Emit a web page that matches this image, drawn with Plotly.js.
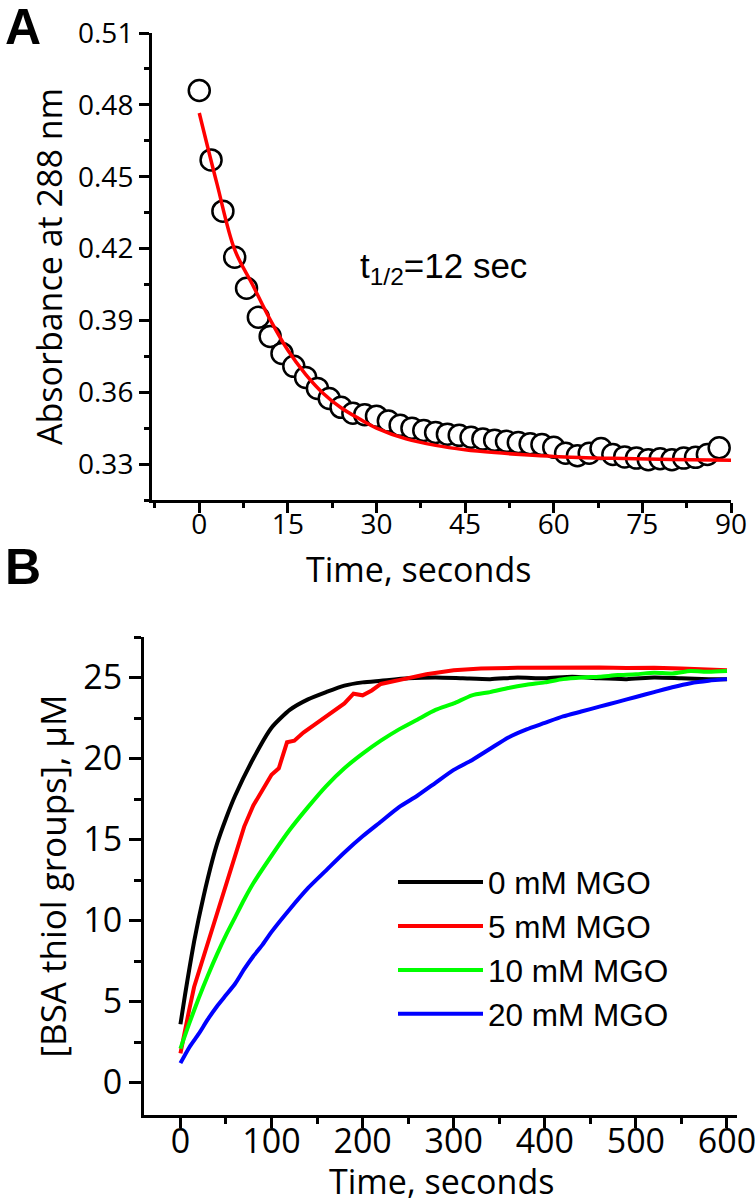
<!DOCTYPE html>
<html><head><meta charset="utf-8">
<script src="https://cdn.plot.ly/plotly-3.0.1.min.js"></script>
<style>html,body{margin:0;padding:0;background:#fff}</style>
</head><body>
<div id="chart" style="width:755px;height:1203px"></div>
<script>
// ---- Panel A data ----
const timeA = [0,2,4,6,8,10,12,14,16,18,20,22,24,26,28,30,32,34,36,38,40,42,44,46,48,50,52,54,56,58,60,62,64,66,68,70,72,74,76,78,80,82,84,86,88];
const absA = [0.486,0.457,0.4356,0.4164,0.4034,0.3913,0.3833,0.3762,0.3708,0.3662,0.3616,0.3574,0.3537,0.3512,0.3506,0.3500,0.3480,0.3462,0.3450,0.3440,0.3432,0.3425,0.3420,0.3412,0.3405,0.3400,0.3395,0.3390,0.3385,0.3382,0.3370,0.3345,0.3335,0.3345,0.3365,0.3340,0.3330,0.3325,0.3318,0.3322,0.3318,0.3325,0.3328,0.3340,0.3368];
const fitTimeA = [0,3,6,9,12,15,18,21,24,27,30,35,40,45,50,55,60,70,80,90];
const fitAbsA = [0.4766,0.447,0.4195,0.405,0.3903,0.3775,0.3675,0.3595,0.3535,0.3490,0.3450,0.3405,0.3378,0.3360,0.3348,0.3339,0.3332,0.3324,0.3319,0.3316];
const yTicksA = [0.33,0.36,0.39,0.42,0.45,0.48,0.51];
const yTickTextA = ['0.33','0.36','0.39','0.42','0.45','0.48','0.51'];
const yMinorA = [0.315,0.345,0.375,0.405,0.435,0.465,0.495];
const xTicksA = [0,15,30,45,60,75,90];
const xMinorA = [-7.5,7.5,22.5,37.5,52.5,67.5,82.5];

// ---- Panel B data ----
const seriesNames = ['0 mM MGO','5 mM MGO','10 mM MGO','20 mM MGO'];
const seriesColors = ['#000000','#ff0000','#00ff00','#0000ff'];
const seriesShapes = ['spline','linear','spline','spline'];
const t0 = [0,5,10,15,20,30,40,50,60,80,100,120,140,160,180,200,220,250,280,310,340,370,400,430,460,490,520,550,580,600];
const v0 = [3.6,5.4,7.1,8.7,10.1,12.6,14.7,16.3,17.7,20.0,21.9,23.0,23.65,24.1,24.5,24.7,24.8,24.95,25.0,24.95,24.9,25.0,24.95,25.05,24.95,24.9,25.0,24.95,24.9,24.9];
const t5 = [0,5,10,15,20,30,40,50,60,70,80,90,100,108,113,117,125,135,150,165,180,190,200,210,220,245,270,300,330,370,400,430,460,490,520,550,580,600];
const v5 = [1.8,3.3,4.6,5.9,6.8,8.6,10.6,12.4,14.1,15.8,17.1,18.0,19.0,19.4,20.3,21.0,21.1,21.6,22.2,22.8,23.4,24.0,23.9,24.2,24.6,24.9,25.2,25.45,25.55,25.6,25.62,25.6,25.62,25.58,25.6,25.55,25.5,25.45];
const t10 = [0,10,20,30,40,50,60,70,80,100,120,140,160,180,200,220,240,260,280,300,320,340,360,380,400,420,440,460,480,500,520,540,560,580,600];
const v10 = [2.1,3.7,5.2,6.6,7.9,9.1,10.2,11.3,12.3,14.0,15.6,17.0,18.3,19.4,20.3,21.1,21.8,22.4,23.0,23.4,23.9,24.1,24.35,24.55,24.7,24.9,25.0,25.05,25.15,25.2,25.3,25.25,25.4,25.35,25.4];
const t20 = [0,10,20,30,40,50,60,70,80,90,100,120,140,160,180,200,220,240,260,280,300,320,340,360,380,400,420,440,460,480,500,520,540,560,580,600];
const v20 = [1.2,2.2,3.0,3.9,4.7,5.4,6.1,7.0,7.8,8.5,9.3,10.7,12.0,13.1,14.2,15.2,16.1,17.0,17.7,18.5,19.3,19.9,20.6,21.3,21.8,22.2,22.6,22.9,23.2,23.5,23.8,24.1,24.4,24.65,24.8,24.9];
const timesB = [t0,t5,t10,t20];
const valuesB = [v0,v5,v10,v20];
const xTicksB = [0,100,200,300,400,500,600];

const W = 755, H = 1203;
const tickFontA = {family:'Open Sans', size:28, color:'#000'};
const tickFontB = {family:'Open Sans', size:34, color:'#000'};
const titleFont = {family:'Open Sans', size:34, color:'#000'};

const traces = [];
traces.push({x:timeA, y:absA, type:'scatter', mode:'markers', xaxis:'x', yaxis:'y', showlegend:false,
  marker:{symbol:'circle', size:21, color:'#fff', line:{color:'#000', width:2.5}}, cliponaxis:false});
traces.push({x:fitTimeA, y:fitAbsA, type:'scatter', mode:'lines', xaxis:'x', yaxis:'y', showlegend:false,
  line:{color:'#ff0000', width:3.5, shape:'spline'}});
for (let i = 0; i < seriesNames.length; i++) {
  traces.push({x:timesB[i], y:valuesB[i], type:'scatter', mode:'lines', name:seriesNames[i], xaxis:'x2', yaxis:'y2',
    line:{color:seriesColors[i], width:4, shape:seriesShapes[i], smoothing:0.6}});
}
// empty helper traces so the label-only overlay axes exist
traces.push({x:[], y:[], type:'scatter', mode:'lines', xaxis:'x3', yaxis:'y', showlegend:false, hoverinfo:'skip'});
traces.push({x:[], y:[], type:'scatter', mode:'lines', xaxis:'x4', yaxis:'y2', showlegend:false, hoverinfo:'skip'});

const axBase = {showline:true, linewidth:3, linecolor:'#000', showgrid:false, zeroline:false, ticks:'outside', tickwidth:3, tickcolor:'#000'};
const labelAx = {showline:false, showgrid:false, zeroline:false, ticks:'', ticklen:0, ticklabeloverflow:'allow', tickmode:'array'};

const layout = {
  width:W, height:H, margin:{l:0,r:0,t:0,b:0}, paper_bgcolor:'#fff', plot_bgcolor:'#fff',
  xaxis: Object.assign({}, axBase, {domain:[152/W,731/W], range:[-8,90], anchor:'y', tickmode:'array', tickvals:xTicksA,
    ticklen:10, showticklabels:false,
    minor:{tickmode:'array', tickvals:xMinorA, ticklen:5, tickwidth:3, tickcolor:'#000', ticks:'outside', showgrid:false}}),
  xaxis3: Object.assign({}, labelAx, {overlaying:'x', anchor:'y', side:'bottom', range:[-8,90], tickvals:xTicksA, tickfont:tickFontA, ticklabelstandoff:5}),
  yaxis: Object.assign({}, axBase, {domain:[1-500/H,1-33/H], range:[0.315,0.51], anchor:'x', tickmode:'array', tickvals:yTicksA, ticktext:yTickTextA,
    ticklen:10, tickfont:tickFontA, minor:{tickmode:'array', tickvals:yMinorA, ticklen:5, tickwidth:3, tickcolor:'#000', ticks:'outside', showgrid:false},
    title:{text:'Absorbance at 288 nm', font:titleFont, standoff:6}}),
  xaxis2: Object.assign({}, axBase, {domain:[144/W,737/W], range:[-40,611], anchor:'y2', tickmode:'array', tickvals:xTicksB,
    ticklen:10, showticklabels:false,
    minor:{dtick:50, ticklen:6, tickwidth:3, tickcolor:'#000', ticks:'outside', showgrid:false}}),
  xaxis4: Object.assign({}, labelAx, {overlaying:'x2', anchor:'y2', side:'bottom', range:[-40,611], tickvals:xTicksB, tickfont:tickFontB, ticklabelstandoff:3}),
  yaxis2: Object.assign({}, axBase, {domain:[1-1115/H,1-637/H], range:[-2,27.5], anchor:'x2', tick0:0, dtick:5,
    ticklen:12, tickfont:tickFontB, minor:{dtick:2.5, ticklen:7, tickwidth:3, tickcolor:'#000', ticks:'outside', showgrid:false},
    title:{text:'[BSA thiol groups], μM', font:{family:'Open Sans', size:35, color:'#000'}, standoff:7}}),
  legend:{x:393/W, xanchor:'left', y:1-855/H, yanchor:'top', font:{family:'Liberation Sans, Arial', size:31.5, color:'#000'},
    itemwidth:85, bgcolor:'rgba(0,0,0,0)', borderwidth:0, tracegroupgap:0},
  showlegend:true,
  annotations:[
    {xref:'paper', yref:'paper', x:418/W, y:1-569/H, xanchor:'center', yanchor:'middle', showarrow:false,
      text:'Time, seconds', font:titleFont},
    {xref:'paper', yref:'paper', x:441/W, y:1-1181/H, xanchor:'center', yanchor:'middle', showarrow:false,
      text:'Time, seconds', font:titleFont},
    {xref:'x', yref:'y', x:26.9, y:0.4118, xanchor:'left', yanchor:'middle', showarrow:false,
      text:'t<sub>1/2</sub>=12 sec', font:{family:'Liberation Sans, Arial', size:35, color:'#000'}},
    {xref:'paper', yref:'paper', x:3/W, y:1-27/H, xanchor:'left', yanchor:'middle', showarrow:false,
      text:'<b>A</b>', font:{family:'Liberation Sans, Arial', size:50, color:'#000'}},
    {xref:'paper', yref:'paper', x:3/W, y:1-567/H, xanchor:'left', yanchor:'middle', showarrow:false,
      text:'<b>B</b>', font:{family:'Liberation Sans, Arial', size:50, color:'#000'}}
  ]
};

Plotly.newPlot('chart', traces, layout, {displayModeBar:false, staticPlot:true});
</script>
</body></html>
